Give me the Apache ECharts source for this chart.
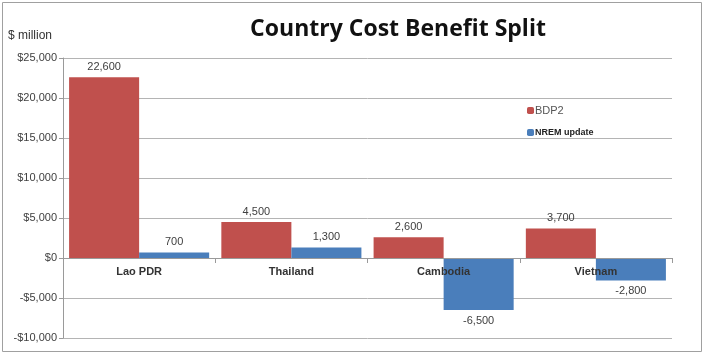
<!DOCTYPE html>
<html><head><meta charset="utf-8">
<script src="https://cdn.jsdelivr.net/npm/echarts@6/dist/echarts.min.js"></script>
<style>html,body{margin:0;padding:0;background:#fff}#c{width:704px;height:355px}</style>
</head><body><div id="c"></div>
<script>
var categories = ['Lao PDR', 'Thailand', 'Cambodia', 'Vietnam'];
var bdp2 = [22600, 4500, 2600, 3700];
var nrem = [700, 1300, -6500, -2800];
var yTicks = { min: -10000, max: 25000, interval: 5000 };

function fmtNum(v) { return v.toLocaleString('en-US'); }
function mk(arr) {
  return arr.map(function (v) {
    return { value: v, label: { position: v < 0 ? 'bottom' : 'top' } };
  });
}
var gridTop = 58, gridBottom = 17, H = 355;
var plotH = H - gridTop - gridBottom;
var zeroOffset = -plotH * (0 - yTicks.min) / (yTicks.max - yTicks.min);

var chart = echarts.init(document.getElementById('c'));
var font = '"Liberation Sans", Arial, sans-serif';
chart.setOption({
  animation: false,
  title: {
    text: 'Country Cost Benefit Split',
    left: 393, textAlign: 'center', top: 13,
    textStyle: { fontFamily: '"Open Sans", sans-serif', fontWeight: 'bold', fontSize: 23, color: '#111' }
  },
  graphic: [
    { type: 'rect', shape: { x: 2.5, y: 2.5, width: 699, height: 349 }, style: { fill: 'none', stroke: '#a0a0a0', lineWidth: 1 }, z: -1 },
    { type: 'text', left: 8, top: 30, style: { text: '$ million', fontSize: 12, fontFamily: font, fill: '#333' } }
  ],
  legend: {
    orient: 'vertical', left: 522, top: 100, itemGap: 12, itemWidth: 7, itemHeight: 7,
    data: ['BDP2', 'NREM update'],
    formatter: function (n) { return n === 'BDP2' ? '{a|' + n + '}' : '{b|' + n + '}'; },
    textStyle: {
      padding: [0, 0, 0, -4],
      rich: {
        a: { fontSize: 11, color: '#555', fontFamily: font },
        b: { fontSize: 9, fontWeight: 'bold', color: '#222', fontFamily: font }
      }
    }
  },
  grid: { left: 63, right: 32, top: gridTop, bottom: gridBottom },
  xAxis: {
    type: 'category', data: categories, position: 'bottom', offset: zeroOffset, z: 10,
    axisLine: { onZero: false, lineStyle: { color: '#9a9a9a' } },
    axisTick: { show: true, length: 5, alignWithLabel: false, lineStyle: { color: '#9a9a9a' } },
    axisLabel: { fontWeight: 'bold', fontSize: 11, color: '#333', fontFamily: font, margin: 8 }
  },
  yAxis: {
    type: 'value', min: yTicks.min, max: yTicks.max, interval: yTicks.interval,
    axisLine: { show: true, lineStyle: { color: '#9a9a9a' } },
    axisTick: { show: true, length: 4, lineStyle: { color: '#9a9a9a' } },
    splitLine: { lineStyle: { color: '#b4b4b4' } },
    axisLabel: {
      fontSize: 11, color: '#404040', fontFamily: font, margin: 6,
      formatter: function (v) { return (v < 0 ? '-$' : '$') + fmtNum(Math.abs(v)); }
    }
  },
  series: [
    { name: 'BDP2', type: 'bar', data: mk(bdp2), barGap: '0%', barCategoryGap: '8%',
      itemStyle: { color: '#c0504d' },
      label: { show: true, fontSize: 11, color: '#404040', fontFamily: font, distance: 5,
        formatter: function (p) { return fmtNum(p.value); } } },
    { name: 'NREM update', type: 'bar', data: mk(nrem), barGap: '0%', barCategoryGap: '8%',
      itemStyle: { color: '#4a7ebb' },
      label: { show: true, fontSize: 11, color: '#404040', fontFamily: font, distance: 5,
        formatter: function (p) { return fmtNum(p.value); } } }
  ]
});
</script></body></html>
